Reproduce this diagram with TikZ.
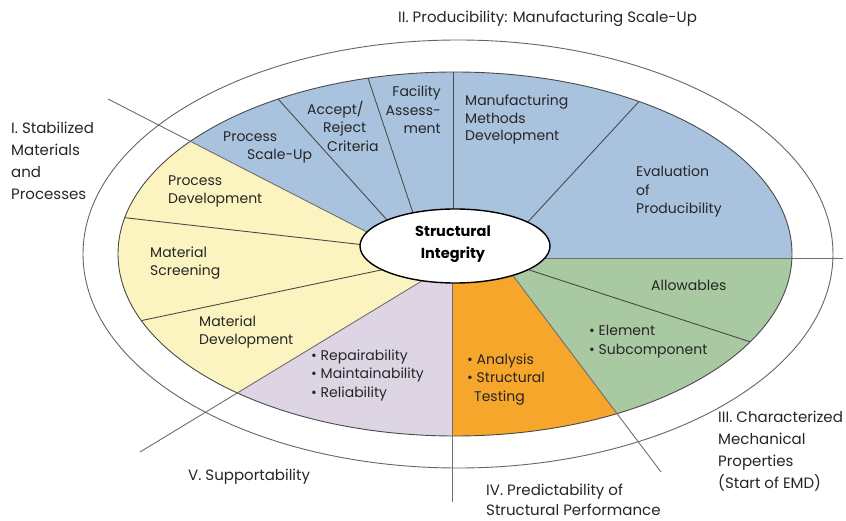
\documentclass[tikz,border=0pt]{standalone}
\usepackage{fontspec}
\setmainfont{Poppins}
\usetikzlibrary{shapes.geometric}
\begin{document}
\definecolor{prodblue}{HTML}{A9C3DF}
\definecolor{matyellow}{HTML}{FCF4C0}
\definecolor{suplav}{HTML}{DDD4E4}
\definecolor{predorange}{HTML}{F5A62B}
\definecolor{chargreen}{HTML}{A8C9A2}
\definecolor{rule}{HTML}{4A4A4A}
\begin{tikzpicture}[x=1pt,y=-1pt,
  lbl/.style={inner sep=0pt,font=\fontsize{14}{18.5}\selectfont,text=black!85},
  outerlbl/.style={inner sep=0pt,font=\fontsize{15}{22}\selectfont,text=black!85},
  divider/.style={draw=rule,line width=0.9pt},
  mainline/.style={draw=rule!80,line width=0.9pt}]
\useasboundingbox (0,0) rectangle (846,521);
\fill[white] (0,0) rectangle (846,521);

% centre of the hub and ring
\coordinate (c) at (455,250);

% outer ring
\draw[draw=black!60,line width=0.9pt] (458,254) ellipse [x radius=375pt,y radius=214pt];

% coloured sectors of the inner disc
\begin{scope}
  \clip (c) -- (400,249) -- (0,43.5) -- (0,0) -- (846,0) -- (846,258) -- (520,258) -- cycle;
  \fill[prodblue] (455,254) ellipse [x radius=337pt,y radius=182pt];
\end{scope}
\begin{scope}
  \clip (c) -- (520,258) -- (846,258) -- (846,521) -- (698,521) -- (505,265) -- cycle;
  \fill[chargreen] (455,254) ellipse [x radius=337pt,y radius=182pt];
\end{scope}
\begin{scope}
  \clip (c) -- (505,265) -- (698,521) -- (452,521) -- (452,260) -- cycle;
  \fill[predorange] (455,254) ellipse [x radius=337pt,y radius=182pt];
\end{scope}
\begin{scope}
  \clip (c) -- (452,260) -- (452,521) -- (26,521) -- (430,276) -- cycle;
  \fill[suplav] (455,254) ellipse [x radius=337pt,y radius=182pt];
\end{scope}
\begin{scope}
  \clip (c) -- (430,276) -- (26,521) -- (0,521) -- (0,43.5) -- (400,249) -- cycle;
  \fill[matyellow] (455,254) ellipse [x radius=337pt,y radius=182pt];
\end{scope}

% sub-dividers, kept inside the disc
\begin{scope}
  \clip (455,254) ellipse [x radius=337pt,y radius=182pt];
  \coordinate (s2a) at (270,90);  \coordinate (s2b) at (405,240);
  \coordinate (s3a) at (365,69);  \coordinate (s3b) at (420,234);
  \coordinate (s4a) at (453,62);  \coordinate (s4b) at (453,230);
  \coordinate (s5a) at (645,95);  \coordinate (s5b) at (515,236);
  \coordinate (s7a) at (760,345); \coordinate (s7b) at (520,267);
  \coordinate (s11a) at (110,216); \coordinate (s11b) at (400,249);
  \coordinate (s12a) at (130,323); \coordinate (s12b) at (400,266);
  \draw[divider] (s2a) -- (s2b);
  \draw[divider] (s3a) -- (s3b);
  \draw[divider] (s4a) -- (s4b);
  \draw[divider] (s5a) -- (s5b);
  \draw[divider] (s7a) -- (s7b);
  \draw[divider] (s11a) -- (s11b);
  \draw[divider] (s12a) -- (s12b);
\end{scope}

% disc outline
\draw[draw=rule,line width=0.9pt] (455,254) ellipse [x radius=337pt,y radius=182pt];

% section boundaries, running out past the ring
\coordinate (m1a) at (108,99);  \coordinate (m1b) at (400,249);
\coordinate (m6a) at (843,258); \coordinate (m6b) at (520,258);
\coordinate (m8a) at (661,472); \coordinate (m8b) at (505,265);
\coordinate (m9a) at (452,502); \coordinate (m9b) at (452,260);
\coordinate (m10a) at (140,452); \coordinate (m10b) at (430,276);
\draw[mainline] (m1b) -- (m1a);
\draw[mainline] (m6b) -- (m6a);
\draw[mainline] (m8b) -- (m8a);
\draw[mainline] (m9b) -- (m9a);
\draw[mainline] (m10b) -- (m10a);

% hub
\node[draw=black,fill=white,line width=1.4pt,ellipse,minimum width=190pt,minimum height=74pt,inner sep=0pt] (hub) at (455,246) {};
\node[inner sep=0pt,align=center,font=\fontsize{14.5}{22}\selectfont\bfseries] (hubtxt) at (453,244) {Structural\\Integrity};

% section titles
\node[outerlbl,anchor=west] (t2) at (398,19) {II. Producibility: Manufacturing Scale-Up};
\node[outerlbl,anchor=west,align=left] (t1) at (11,161) {I. Stabilized\\Materials\\and\\Processes};
\node[outerlbl,anchor=west,align=left] (t3) at (718,451) {III. Characterized\\Mechanical\\Properties\\(Start of EMD)};
\node[outerlbl,anchor=west,align=left,font=\fontsize{15}{20}\selectfont] (t4) at (486,500) {IV. Predictability of\\Structural Performance};
\node[outerlbl,anchor=west] (t5) at (188,477) {V. Supportability};

% producibility items
\node[lbl,anchor=west,align=left] (psu) at (223,147.5) {Process\\\hspace*{24pt}Scale-Up};
\node[lbl,anchor=west,align=left] (arc) at (307,126) {Accept/\\\hspace*{16pt}Reject\\\hspace*{20pt}Criteria};
\node[lbl,anchor=east,align=right] (fac) at (441,110) {Facility\\Assess-\\ment};
\node[lbl,anchor=west,align=left,font=\fontsize{14}{17.5}\selectfont] (mmd) at (465,119.5) {Manufacturing\\Methods\\Development};
\node[lbl,anchor=west,align=left] (evp) at (636,191.5) {Evaluation\\of\\Producibility};

% materials items
\node[lbl,anchor=west,align=left] (pdv) at (168,191.5) {Process\\Development};
\node[lbl,anchor=west,align=left] (msc) at (150,263) {Material\\Screening};
\node[lbl,anchor=west,align=left] (mdv) at (199,332) {Material\\Development};

% supportability items
\node[lbl,anchor=west,align=left] (sup) at (311,375) {\textbullet\ Repairability\\\textbullet\ Maintainability\\\textbullet\ Reliability};

% predictability items
\node[lbl,anchor=west,align=left] (pred) at (467,379.5) {\textbullet\ Analysis\\\textbullet\ Structural\\\hspace*{7pt}Testing};

% characterization items
\node[lbl,anchor=west] (alw) at (651,285) {Allowables};
\node[lbl,anchor=west,align=left] (esc) at (589,341.5) {\textbullet\ Element\\\textbullet\ Subcomponent};

\end{tikzpicture}
\end{document}
